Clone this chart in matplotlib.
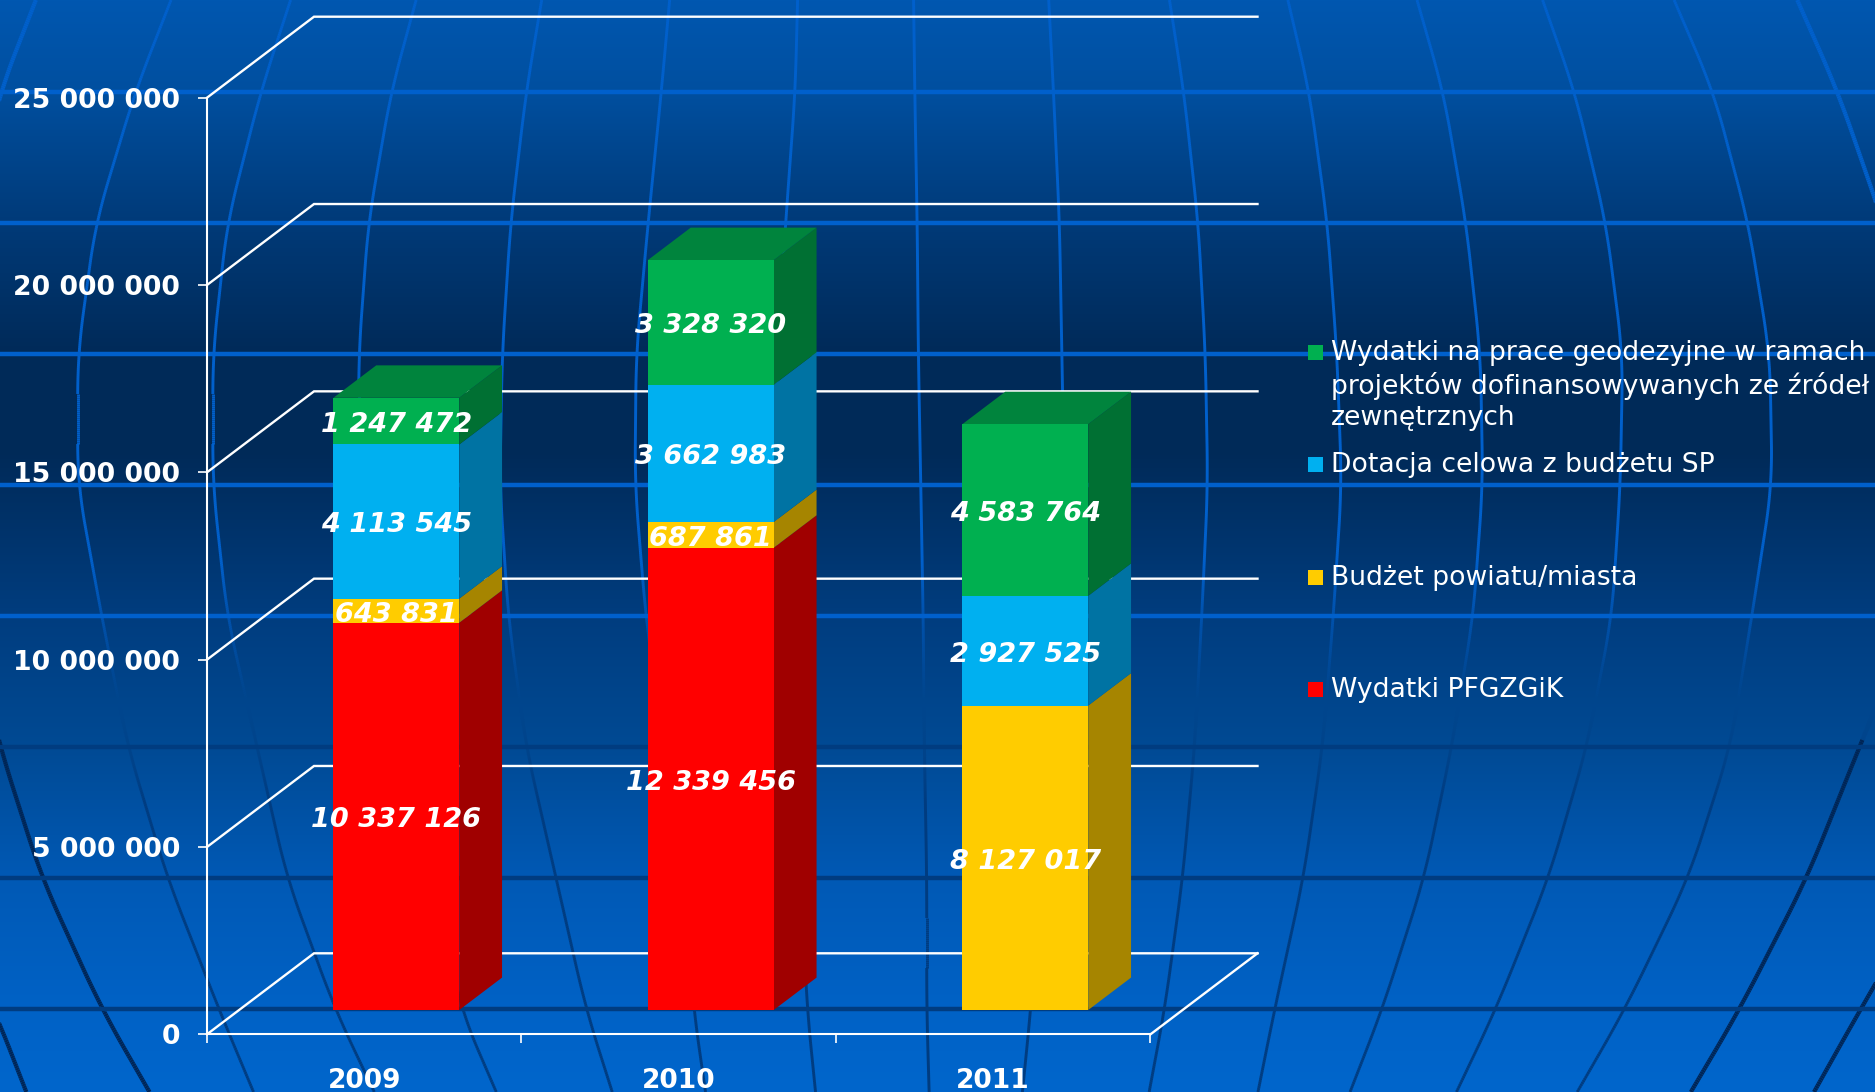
import matplotlib
matplotlib.use("Agg")
import matplotlib.pyplot as plt
from matplotlib.collections import LineCollection
from matplotlib.colors import to_rgb
from matplotlib.patches import Polygon, Rectangle
import numpy as np

years = ["2009", "2010", "2011"]
wydatki_pfg = [10337126, 12339456, 0]
budzet = [643831, 687861, 8127017]
dotacja = [4113545, 3662983, 2927525]
projekty = [1247472, 3328320, 4583764]
y_ticks = [0, 5000000, 10000000, 15000000, 20000000, 25000000]
y_tick_labels = ["0", "5 000 000", "10 000 000", "15 000 000", "20 000 000", "25 000 000"]

legend_labels = [
    "Wydatki na prace geodezyjne w ramach\nprojektów dofinansowywanych ze źródeł\nzewnętrznych",
    "Dotacja celowa z budżetu SP",
    "Budżet powiatu/miasta",
    "Wydatki PFGZGiK",
]

# front, side colours per series
front_colors = ["#ff0000", "#ffcc00", "#00b0f0", "#00b050"]
side_colors = ["#a00000", "#a68500", "#0073a3", "#007033"]
top_color = "#00843d"

# background picture: gradient stops and globe lines (full size pixels for y)
bg_y = [0, 92, 223, 354, 450, 616, 747, 878, 1009, 1092]
bg_col = ["#0057b0", "#004f9f", "#003a78", "#002a58", "#002a58", "#003d7f",
          "#004a94", "#0059b5", "#0062c6", "#0066cc"]
parallels = [92, 223, 354, 485, 616, 747, 878, 1009]
# x read on the 1568 wide picture, at each mer_y level
mer_y = [0, 92, 223, 354, 485, 616, 747, 878, 1009, 1092]
meridians = [
    [667, 665, 657, 650, 648, 655, 665, 670, 675, 682],
    [560, 553, 542, 532, 531, 540, 555, 572, 580, 590],
    [453, 440, 427, 420, 418, 425, 440, 465, 490, 512],
    [348, 327, 308, 300, 300, 310, 335, 365, 385, 415],
    [243, 218, 190, 178, 178, 190, 215, 240, 280, 313],
    [143, 113, 80, 65, 65, 85, 107, 140, 183, 212],
    [30, 0, -25, -40, -40, -25, 0, 35, 85, 125],
    [764, 765, 767, 768, 770, 772, 773, 775, 775, 777],
    [877, 881, 886, 888, 890, 890, 880, 870, 862, 855],
    [978, 990, 1002, 1008, 1010, 1005, 999, 989, 974, 961],
    [1077, 1095, 1110, 1118, 1122, 1115, 1106, 1090, 1066, 1052],
    [1185, 1207, 1226, 1238, 1240, 1232, 1214, 1191, 1156, 1129],
    [1290, 1317, 1343, 1357, 1355, 1348, 1327, 1295, 1251, 1218],
    [1400, 1433, 1462, 1480, 1482, 1465, 1447, 1412, 1359, 1319],
    [1503, 1537, 1575, 1600, 1605, 1600, 1555, 1511, 1455, 1414],
]
outer_left = [-130, -120, -110, -100, -100, -95, -85, -60, -5, 22]
outer_right = [1650, 1650, 1650, 1650, 1650, 1650, 1650, 1620, 1556, 1517]
meridians += [outer_left, outer_right]

W, H = 1875, 1092
fig = plt.figure(figsize=(W / 100, H / 100), dpi=100)
plt.rcParams["font.family"] = "DejaVu Sans"

bg = fig.add_axes([0, 0, 1, 1])
bg.set_xlim(0, W)
bg.set_ylim(H, 0)
bg.axis("off")

rows = np.arange(H)
stops = np.array([to_rgb(c) for c in bg_col])
grad = np.stack([np.interp(rows, bg_y, stops[:, i]) for i in range(3)], axis=1)
bg.imshow(grad[:, None, :], extent=(0, W, H, 0), aspect="auto", interpolation="nearest")
bg.set_xlim(0, W)
bg.set_ylim(H, 0)

bright = np.array(to_rgb("#0060cc"))
dark = np.array(to_rgb("#003c80"))
edge = np.array(to_rgb("#002555"))
for py in parallels:
    bg.plot([0, W], [py, py], color="#0060cc" if py < 700 else "#003c80", lw=3.2, zorder=2)

for m in meridians:
    # knots straightened past both ends, then a running mean to round the corners
    kx = np.array([2 * m[0] - m[1]] + m + [2 * m[-1] - m[-2]]) * W / 1568
    ky = [-92] + mer_y + [1175]
    ys = np.arange(-60, H + 61, 2.0)
    xs = np.interp(ys, ky, kx)
    xs = np.convolve(xs, np.ones(41) / 41, mode="same")
    keep = (ys >= 0) & (ys <= H)
    pts = np.column_stack([xs[keep], ys[keep]])
    segs = np.stack([pts[:-1], pts[1:]], axis=1)
    ym = (pts[:-1, 1] + pts[1:, 1]) / 2
    cols = []
    for y in ym:
        back = np.array([np.interp(y, bg_y, stops[:, k]) for k in range(3)])
        if y < 560:
            c = bright
        elif y < 700:
            t = (y - 560) / 140
            c = bright * (1 - t) + back * t
        elif y < 800:
            t = (y - 700) / 100
            c = back * (1 - t) + dark * t
        else:
            c = dark
        cols.append(c)
    outer = m[-1] < 130 or m[-1] > 1400
    if outer:
        cols = [edge if y > 740 else c for y, c in zip(ym, cols)]
    bg.add_collection(LineCollection(segs, colors=cols, linewidths=3.0 if outer else 2.1, zorder=1))

ax = fig.add_axes([207 / W, 1 - 1034.3 / H, 943.5 / W, 936.6 / H])
ax.patch.set_visible(False)
ax.set_xlim(0, 3)
ax.set_ylim(0, 25000000)

# depth of the 3D box, in data units
DX = 107 / (943.5 / 3)
DY = 81 / (936.6 / 25000000)
WIDTH = 0.4


def wall(points):
    ax.plot([p[0] for p in points], [p[1] for p in points], color="white", lw=1.7,
            clip_on=False, solid_joinstyle="miter", zorder=2)


for v in y_ticks:
    wall([(0, v), (DX, v + DY), (3 + DX, v + DY)])
wall([(3, 0), (3 + DX, DY)])

series = [wydatki_pfg, budzet, dotacja, projekty]
cats = np.arange(len(years)) + 0.5
for c, xc in enumerate(cats):
    bottom = 0
    x0 = xc + 0.3 * DX - WIDTH / 2
    x1 = x0 + WIDTH
    dx = 0.4 * DX
    dy = 0.4 * DY
    y_off = 0.3 * DY
    for s, vals in enumerate(series):
        v = vals[c]
        if v == 0:
            continue
        y0 = bottom + y_off
        y1 = y0 + v
        ax.bar(x0, v, WIDTH, bottom=y0, align="edge", color=front_colors[s], linewidth=0, zorder=4, clip_on=False)
        ax.add_patch(Polygon([(x1, y0), (x1 + dx, y0 + dy), (x1 + dx, y1 + dy), (x1, y1)],
                             facecolor=side_colors[s], linewidth=0, zorder=3, clip_on=False))
        ax.text((x0 + x1) / 2, (y0 + y1) / 2 - 25000, f"{v:,}".replace(",", " "), color="white", fontsize=19.5,
                fontweight="bold", fontstyle="oblique", ha="center", va="center_baseline", zorder=6)
        bottom += v
    top = bottom + y_off
    ax.add_patch(Polygon([(x0, top), (x0 + dx, top + dy), (x1 + dx, top + dy), (x1, top)],
                         facecolor=top_color, linewidth=0, zorder=3, clip_on=False))

for side in ["top", "right"]:
    ax.spines[side].set_visible(False)
for side in ["left", "bottom"]:
    ax.spines[side].set_color("white")
    ax.spines[side].set_linewidth(1.5)

ax.set_yticks(y_ticks)
ax.set_yticklabels(y_tick_labels, color="white", fontsize=19.3, fontweight="bold")
ax.set_xticks([0, 1, 2, 3])
ax.set_xticklabels([])
ax.set_xticks(cats, minor=True)
ax.set_xticklabels(years, minor=True, color="white", fontsize=19, fontweight="bold")
ax.tick_params(axis="both", which="major", color="white", length=6.5, width=1.2)
ax.tick_params(axis="y", pad=13)
ax.tick_params(axis="x", which="minor", length=0, pad=24)

# legend, rows sit at even steps
legend_y = [352, 464, 577, 689]
for lab, col, ly in zip(legend_labels, front_colors[::-1], legend_y):
    bg.add_patch(Rectangle((1308, ly - 7.5), 15, 15, facecolor=col, linewidth=0, zorder=3))
    bg.text(1331, ly - 12, lab, color="white", fontsize=19.2, va="top", ha="left", linespacing=1.26, zorder=3)

fig.savefig("out.png", dpi=100)
